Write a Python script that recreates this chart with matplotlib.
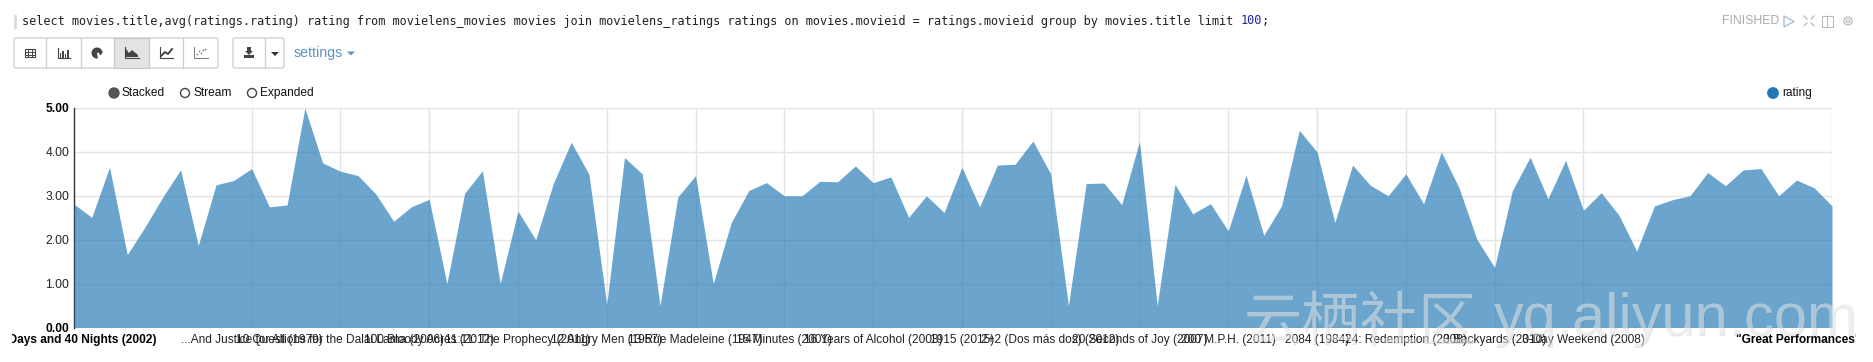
import matplotlib
matplotlib.use("Agg")
import matplotlib.pyplot as plt
from matplotlib.patches import Rectangle, Circle, Polygon, Wedge, FancyBboxPatch
from matplotlib.transforms import Bbox

W, H = 1873, 362

query = ("select movies.title,avg(ratings.rating) rating from movielens_movies movies "
         "join movielens_ratings ratings on movies.movieid = ratings.movieid "
         "group by movies.title limit ")
query_limit = "100"

ratings = [2.81, 2.51, 3.65, 1.66, 2.29, 2.97, 3.59, 1.87, 3.25, 3.35,
           3.62, 2.75, 2.79, 5.00, 3.75, 3.56, 3.46, 3.04, 2.42, 2.75,
           2.92, 1.00, 3.06, 3.57, 1.00, 2.65, 2.00, 3.29, 4.22, 3.49,
           0.52, 3.87, 3.50, 0.50, 2.97, 3.46, 1.00, 2.38, 3.12, 3.30,
           3.00, 3.00, 3.33, 3.32, 3.68, 3.30, 3.43, 2.51, 3.00, 2.62,
           3.65, 2.75, 3.70, 3.72, 4.25, 3.50, 0.50, 3.28, 3.29, 2.80,
           4.24, 0.50, 3.26, 2.59, 2.82, 2.20, 3.47, 2.10, 2.77, 4.49,
           4.00, 2.39, 3.70, 3.24, 3.00, 3.50, 2.82, 4.00, 3.18, 2.01,
           1.37, 3.12, 3.88, 2.93, 3.81, 2.67, 3.07, 2.56, 1.74, 2.77,
           2.91, 3.00, 3.53, 3.23, 3.59, 3.62, 3.00, 3.36, 3.18, 2.77]

x_ticks = [0, 10, 15, 20, 25, 30, 35, 40, 45, 50, 55, 60, 65, 70, 75, 80, 85, 99]
x_labels = ["40 Days and 40 Nights (2002)",
            "...And Justice for All (1979)",
            "10 Questions for the Dalai Lama (2006)",
            "100 Bloody Acres (2012)",
            "11:11: The Prophecy (2011)",
            "12 Angry Men (1957)",
            "13 Rue Madeleine (1947)",
            "15 Minutes (2001)",
            "16 Years of Alcohol (2003)",
            "1915 (2015)",
            "2+2 (Dos más dos) (2012)",
            "20 Seconds of Joy (2007)",
            "200 M.P.H. (2011)",
            "2084 (1984)",
            "24: Redemption (2008)",
            "3 Backyards (2010)",
            "3-Day Weekend (2008)",
            '"Great Performances" Cats (1998)']
y_ticks = [0, 1, 2, 3, 4, 5]

plt.rcParams['font.family'] = ['Liberation Sans', 'DejaVu Sans']

fig = plt.figure(figsize=(W / 100, H / 100), dpi=100)

left, right, top, bottom = 74, 1832, 108, 327.5
ax = fig.add_axes([left / W, 1 - bottom / H, (right - left) / W, (bottom - top) / H])
ax.patch.set_alpha(0)
ax.set_xlim(0, 99)
ax.set_ylim(0, 5)
ax.fill_between(range(len(ratings)), ratings, 0, color='#1f77b4', alpha=0.66, lw=0, zorder=3)
ax.grid(True, color='#e4e4e4', lw=1, zorder=1)
ax.set_axisbelow(True)
for s in ['top', 'right', 'bottom']:
    ax.spines[s].set_visible(False)
ax.spines['left'].set_color('#333333')
ax.spines['left'].set_linewidth(1)

ax.set_yticks(y_ticks)
ax.set_yticklabels(['%.2f' % v for v in y_ticks], fontsize=8.7, color='#222222')
ax.set_xticks(x_ticks)
ax.set_xticklabels(x_labels, fontsize=8.6, color='#222222')
ax.tick_params(axis='both', length=0, pad=3.5)
ax.tick_params(axis='x', pad=5)
for lab in [ax.get_yticklabels()[0], ax.get_yticklabels()[-1],
            ax.get_xticklabels()[0], ax.get_xticklabels()[-1]]:
    lab.set_fontweight('bold')
    lab.set_color('#000000')

# the two bold end labels run off the svg in the screenshot
clip = Bbox([[12, 0], [1856, H]])
for lab in [ax.get_xticklabels()[0], ax.get_xticklabels()[-1]]:
    lab.set_clip_box(clip)
    lab.set_clip_on(True)

# overlay in pixel coords for the notebook chrome
ui = fig.add_axes([0, 0, 1, 1], zorder=5)
ui.set_xlim(0, W)
ui.set_ylim(H, 0)
ui.axis('off')
ui.patch.set_alpha(0)

# query line
ui.add_patch(Rectangle((14, 15), 3, 14, color='#dddddd', lw=0))
q = ui.text(22, 21, query, family='DejaVu Sans Mono', fontsize=8.55, va='center', color='#222222')
fig.canvas.draw()
bb = q.get_window_extent()
ui.text(bb.x1, 21, query_limit, family='DejaVu Sans Mono', fontsize=8.55, va='center', color='#2222aa')
bb2 = ui.texts[-1].get_window_extent()
ui.text(bb2.x1, 21, ';', family='DejaVu Sans Mono', fontsize=8.55, va='center', color='#222222')

# right side status
ui.text(1722, 21, 'FINISHED', fontsize=8.8, va='center', color='#aaaaaa')
ui.add_patch(Polygon([(1784, 16), (1794, 21.5), (1784, 27)], fc='none', ec='#a9bfd2', lw=1))
for dx, dy in [(-1, -1), (1, -1), (-1, 1), (1, 1)]:
    ui.plot([1809 + dx * 2, 1809 + dx * 5], [21 + dy * 2, 21 + dy * 5], color='#bbbbbb', lw=0.9)
ui.add_patch(Rectangle((1822, 16), 11, 11, fc='none', ec='#bbbbbb', lw=0.8))
ui.plot([1827.5, 1827.5], [16, 27], color='#bbbbbb', lw=0.8)
ui.add_patch(Circle((1848, 21), 4, fc='none', ec='#bbbbbb', lw=0.9))
ui.add_patch(Circle((1848, 21), 1.7, fc='none', ec='#bbbbbb', lw=0.8))


def button_group(x0, x1, dividers):
    ui.add_patch(FancyBboxPatch((x0 + 2, 40), x1 - x0 - 4, 26, boxstyle='round,pad=2',
                                fc='white', ec='#cccccc', lw=0.9))
    for d in dividers:
        ui.plot([d, d], [38, 68], color='#cccccc', lw=0.9)


button_group(14, 218, [46, 81, 114, 149, 183])
ui.add_patch(Rectangle((114, 38), 35, 30, fc='#e3e3e3', ec='#c4c4c4', lw=0.8))
button_group(233, 284, [265])

icon = '#444444'
# table
ui.add_patch(Rectangle((25, 49), 10, 8, fc='none', ec=icon, lw=0.8))
ui.plot([25, 35], [52, 52], color=icon, lw=0.7)
ui.plot([25, 35], [54.5, 54.5], color=icon, lw=0.7)
ui.plot([28.3, 28.3], [49, 57], color=icon, lw=0.7)
ui.plot([31.6, 31.6], [49, 57], color=icon, lw=0.7)
# bars
ui.plot([58, 58, 70], [48, 58, 58], color=icon, lw=0.8)
for bx, bh in [(60, 5), (62.5, 7), (65, 4), (67.5, 8)]:
    ui.add_patch(Rectangle((bx, 57.5 - bh), 1.3, bh, fc=icon, lw=0))
# pie
ui.add_patch(Wedge((97, 53), 5.5, 80, 350, fc=icon, lw=0))
ui.add_patch(Wedge((98.5, 51.5), 4, 0, 70, fc=icon, lw=0))
# area
ui.plot([125, 125, 139], [47, 58, 58], color=icon, lw=0.8)
ui.add_patch(Polygon([(126, 57), (126, 49), (129, 53), (132, 50), (138, 55), (138, 57)], fc=icon, lw=0))
# line
ui.plot([160, 160, 173], [47, 58, 58], color=icon, lw=0.8)
ui.plot([161, 165, 168, 172], [56, 52, 54, 49], color=icon, lw=1.4)
# scatter
ui.plot([194, 194, 208], [47, 58, 58], color='#777777', lw=0.7)
ui.scatter([197, 199, 201, 203, 205], [54, 51, 53, 50, 49], s=1.5, color='#777777', lw=0)
# download + caret
ui.add_patch(Polygon([(247, 47), (251, 47), (251, 51), (253, 51), (249, 55), (245, 51), (247, 51)], fc=icon, lw=0))
ui.add_patch(Rectangle((244, 55), 10, 2.5, fc=icon, lw=0))
ui.add_patch(Polygon([(271, 52), (279, 52), (275, 56)], fc='#333333', lw=0))

ui.text(294, 53.5, 'settings', fontsize=10.2, va='center', color='#5a93c2')
ui.add_patch(Polygon([(347, 51.5), (355, 51.5), (351, 55.5)], fc='#5a93c2', lw=0))

# stacked / stream / expanded toggle
ui.add_patch(Circle((114, 93), 5, fc='#555555', ec='#555555', lw=1))
ui.text(122, 93, 'Stacked', fontsize=8.6, va='center', color='#111111')
ui.add_patch(Circle((185, 93), 4.5, fc='white', ec='#444444', lw=1))
ui.text(194, 93, 'Stream', fontsize=8.6, va='center', color='#111111')
ui.add_patch(Circle((252, 93), 4.5, fc='white', ec='#444444', lw=1))
ui.text(260, 93, 'Expanded', fontsize=8.6, va='center', color='#111111')

# legend
ui.add_patch(Circle((1773, 93), 5.5, fc='#1f77b4', ec='#1f77b4', lw=0.5))
ui.text(1782, 93, 'rating', fontsize=8.6, va='center', color='#111111')

# watermark
for dx, dy, col, a in [(1, 1, '#888888', 0.22), (0, 0, '#ffffff', 0.42)]:
    ui.text(1244 + dx, 340 + dy, '云栖社区', family=['Noto Sans CJK SC', 'DejaVu Sans'],
            fontsize=42, color=col, alpha=a, va='baseline')
    ui.text(1494 + dx, 335 + dy, 'yq.aliyun.com', family='Liberation Sans',
            fontsize=42.8, color=col, alpha=a, va='baseline')

fig.savefig('out.png', dpi=100, facecolor='white')
